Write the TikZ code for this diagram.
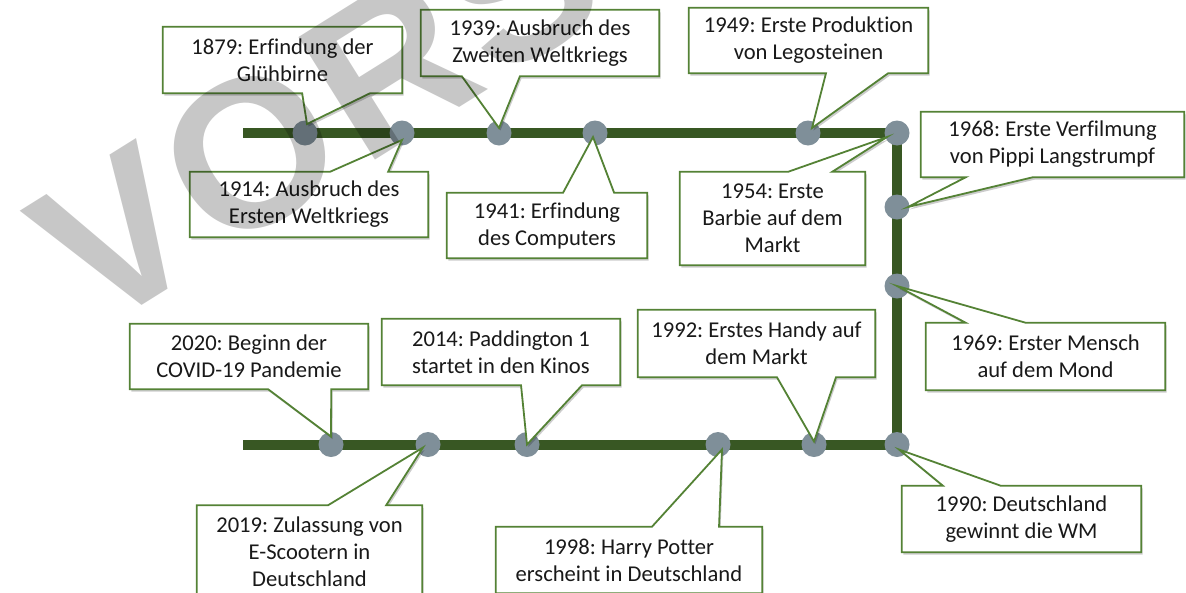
\documentclass[tikz,border=0pt]{standalone}
\usepackage{fontspec}
\setmainfont{Carlito}[Ligatures=NoCommon]
\newfontfamily\wmfont{Liberation Sans}[LetterSpace=3]
\frenchspacing
\usetikzlibrary{calc,backgrounds,shadows}
\definecolor{linegreen}{RGB}{56,87,35}
\definecolor{boxgreen}{RGB}{84,130,53}
\definecolor{dotgray}{RGB}{127,143,153}
\tikzset{
  event/.style={align=center, inner sep=0pt, text=black!90, font=\fontsize{22.6}{27}\selectfont},
  callout/.style={draw=boxgreen, line width=1.8pt, fill=white, line join=miter,
    drop shadow={shadow xshift=1.5pt, shadow yshift=-2.5pt, opacity=0.2, fill=black}},
  dot/.style={circle, fill=dotgray, minimum size=25pt, inner sep=0pt},
  timeline/.style={draw=linegreen, line width=10pt},
  watermark/.style={font=\wmfont\bfseries\fontsize{210}{210}\selectfont, text=black, text opacity=0.22, inner sep=0pt}
}
% callout with the pointer under the box: {box}{from}{to}{tip}
\newcommand{\calloutDown}[4]{\draw[callout] (#1.north west) -- (#1.north east) -- (#1.south east) -- ($(#1.south west)!#3!(#1.south east)$) -- #4 -- ($(#1.south west)!#2!(#1.south east)$) -- (#1.south west) -- cycle;}
% callout with the pointer over the box
\newcommand{\calloutUp}[4]{\draw[callout] (#1.south west) -- (#1.south east) -- (#1.north east) -- ($(#1.north west)!#3!(#1.north east)$) -- #4 -- ($(#1.north west)!#2!(#1.north east)$) -- (#1.north west) -- cycle;}
\begin{document}
\begin{tikzpicture}[x=1pt, y=-1pt]
  \useasboundingbox (0,0) rectangle (1186,592);

  % the texts, top row
  \node[event, minimum width=239pt, minimum height=66pt] (b1879) at (282.5,60) {1879: Erfindung der\\Glühbirne};
  \node[event, minimum width=238pt, minimum height=65pt] (b1914) at (309,204.5) {1914: Ausbruch des\\Ersten Weltkriegs};
  \node[event, minimum width=238pt, minimum height=66pt] (b1939) at (540,43) {1939: Ausbruch des\\Zweiten Weltkriegs};
  \node[event, minimum width=200pt, minimum height=65pt] (b1941) at (547,225.5) {1941: Erfindung\\des Computers};
  \node[event, minimum width=239pt, minimum height=65pt] (b1949) at (808.5,40.5) {1949: Erste Produktion\\von Legosteinen};
  \node[event, minimum width=185pt, minimum height=93pt] (b1954) at (772.5,218.5) {1954: Erste\\Barbie auf dem\\Markt};
  % right side
  \node[event, minimum width=263pt, minimum height=65pt] (b1968) at (1052.5,144.5) {1968: Erste Verfilmung\\von Pippi Langstrumpf};
  \node[event, minimum width=239pt, minimum height=67pt] (b1969) at (1045.5,356.5) {1969: Erster Mensch\\auf dem Mond};
  % bottom row
  \node[event, minimum width=238pt, minimum height=65pt] (b2020) at (249,356.5) {2020: Beginn der\\COVID-19 Pandemie};
  \node[event, minimum width=238pt, minimum height=66pt] (b2014) at (501,352) {2014: Paddington 1\\startet in den Kinos};
  \node[event, minimum width=225pt, minimum height=93pt] (b2019) at (309.5,552) {2019: Zulassung von\\E-Scootern in\\Deutschland};
  \node[event, minimum width=237pt, minimum height=67pt] (b1992) at (756.5,343.5) {1992: Erstes Handy auf\\dem Markt};
  \node[event, minimum width=266pt, minimum height=66pt] (b1998) at (629,560) {1998: Harry Potter\\erscheint in Deutschland};
  \node[event, minimum width=239pt, minimum height=66pt] (b1990) at (1021.5,519) {1990: Deutschland\\gewinnt die WM};

  \begin{scope}[on background layer]
    % the line: top row, down the right side, bottom row
    \coordinate (topstart) at (243,133);
    \coordinate (topend) at (897,133);
    \coordinate (botend) at (897,444.5);
    \coordinate (botstart) at (243,444.5);
    \draw[timeline] (topstart) -- (topend) -- (botend) -- (botstart);

    \foreach \n/\x/\y in {1879/305/133, 1914/402/133, 1939/499/133, 1941/595/133, 1949/808/133,
      1954/897/133, 1968/897/207, 1969/897/286, 1990/897/444.5, 1992/814/444.5,
      1998/718/444.5, 2014/527/444.5, 2019/428/444.5, 2020/331/444.5}
      \node[dot] (d\n) at (\x,\y) {};

    % now the callouts
    \calloutDown{b1879}{0.582}{0.866}{($(d1879)+(2,-9)$)}
    \calloutUp{b1914}{0.588}{0.832}{($(d1914)+(0,7)$)}
    \calloutDown{b1939}{0.172}{0.416}{($(d1939)+(0,-5)$)}
    \calloutUp{b1941}{0.58}{0.835}{($(d1941)+(-2,4)$)}
    \calloutDown{b1949}{0.573}{0.833}{($(d1949)+(4,-5)$)}
    \calloutUp{b1954}{0.584}{0.822}{($(d1954)+(-10,4)$)}
    \calloutDown{b1968}{0.171}{0.426}{($(d1968)+(11,0)$)}
    \calloutUp{b1969}{0.167}{0.418}{(d1969.center)}
    \calloutDown{b2020}{0.58}{0.845}{($(d2020)+(0,-8)$)}
    \calloutDown{b2014}{0.584}{0.84}{(d2014.center)}
    \calloutUp{b2019}{0.582}{0.84}{($(d2019)+(-5,3)$)}
    \calloutDown{b1992}{0.586}{0.835}{($(d1992)+(0,-3)$)}
    \calloutUp{b1998}{0.586}{0.838}{($(d1998)+(4,5)$)}
    \calloutUp{b1990}{0.172}{0.414}{($(d1990)+(2,5)$)}
  \end{scope}

  % watermark over everything
  \node[watermark, rotate=32, anchor=base west] (wm) at (95,335) {VORSCHAU};
\end{tikzpicture}
\end{document}
